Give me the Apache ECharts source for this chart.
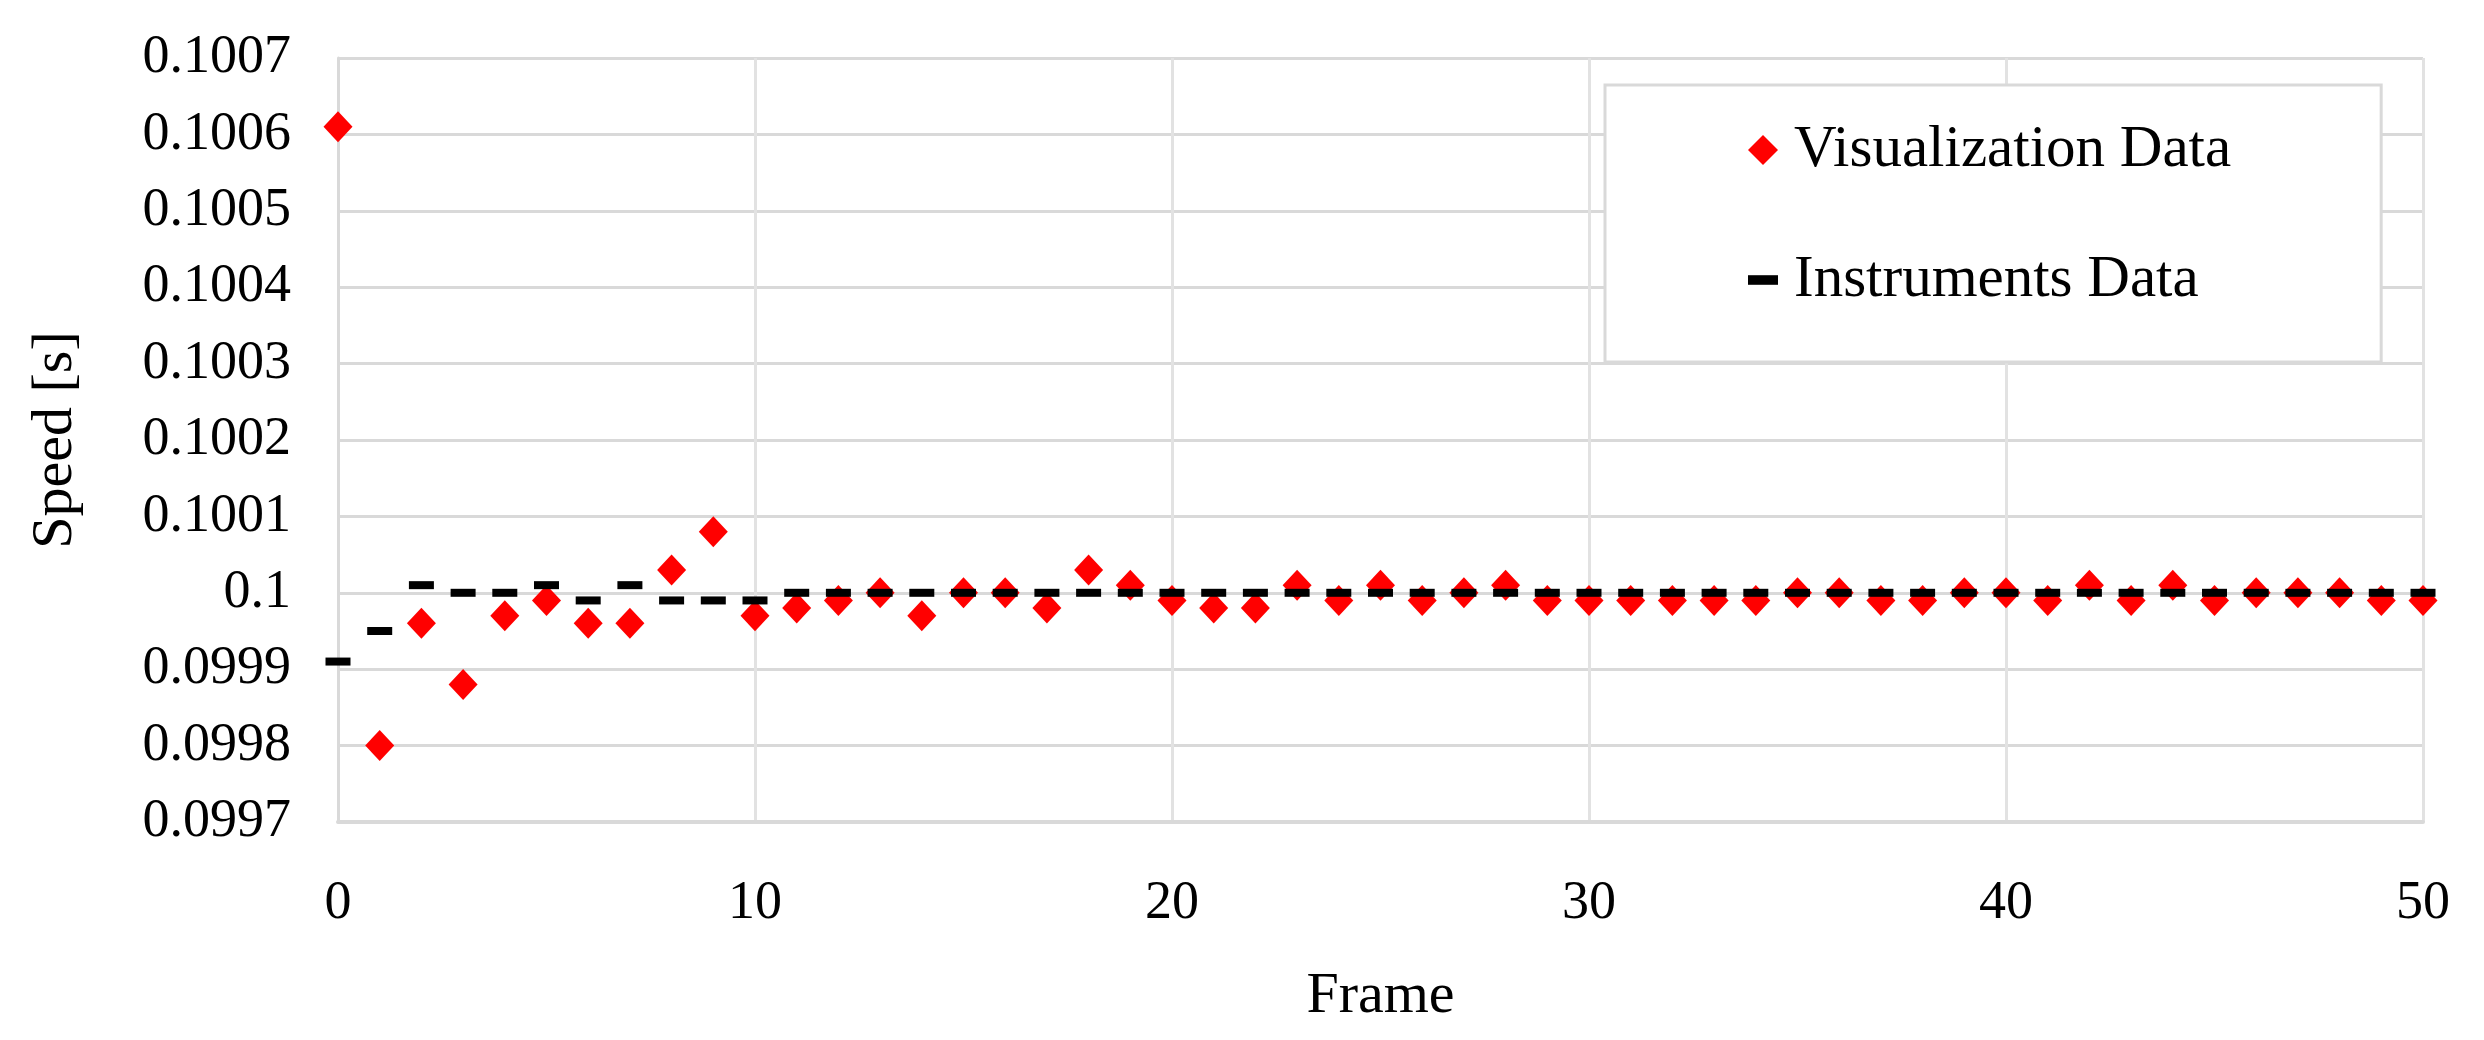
<!DOCTYPE html>
<html>
<head>
<meta charset="utf-8">
<title>Speed per frame</title>
<script src="https://cdn.jsdelivr.net/npm/echarts@6/dist/echarts.min.js"></script>
<style>
  html, body { margin: 0; padding: 0; background: #fff; }
  #chart { width: 2484px; height: 1040px; }
</style>
</head>
<body>
<div id="chart"></div>
<script>
// frame numbers on the x axis
const frames = [
  0, 1, 2, 3, 4, 5, 6, 7, 8, 9,
  10, 11, 12, 13, 14, 15, 16, 17, 18, 19,
  20, 21, 22, 23, 24, 25, 26, 27, 28, 29,
  30, 31, 32, 33, 34, 35, 36, 37, 38, 39,
  40, 41, 42, 43, 44, 45, 46, 47, 48, 49, 50
]

// red diamonds
const visualizationData = [
  0.10061, 0.09980, 0.09996, 0.09988, 0.09997, 0.09999, 0.09996, 0.09996, 0.10003, 0.10008,
  0.09997, 0.09998, 0.09999, 0.10000, 0.09997, 0.10000, 0.10000, 0.09998, 0.10003, 0.10001,
  0.09999, 0.09998, 0.09998, 0.10001, 0.09999, 0.10001, 0.09999, 0.10000, 0.10001, 0.09999,
  0.09999, 0.09999, 0.09999, 0.09999, 0.09999, 0.10000, 0.10000, 0.09999, 0.09999, 0.10000,
  0.10000, 0.09999, 0.10001, 0.09999, 0.10001, 0.09999, 0.10000, 0.10000, 0.10000, 0.09999, 0.09999
]

// black dashes
const instrumentsData = [
  0.09991, 0.09995, 0.10001, 0.10000, 0.10000, 0.10001, 0.09999, 0.10001, 0.09999, 0.09999,
  0.09999, 0.10000, 0.10000, 0.10000, 0.10000, 0.10000, 0.10000, 0.10000, 0.10000, 0.10000,
  0.10000, 0.10000, 0.10000, 0.10000, 0.10000, 0.10000, 0.10000, 0.10000, 0.10000, 0.10000,
  0.10000, 0.10000, 0.10000, 0.10000, 0.10000, 0.10000, 0.10000, 0.10000, 0.10000, 0.10000,
  0.10000, 0.10000, 0.10000, 0.10000, 0.10000, 0.10000, 0.10000, 0.10000, 0.10000, 0.10000, 0.10000
]

const seriesNames = ['Visualization Data', 'Instruments Data']

const font = 'Liberation Serif'
const gridColor = '#d9d9d9'

const chart = echarts.init(document.getElementById('chart'))

const option = {
  backgroundColor: '#fff',
  animation: false,
  grid: {
    left: 338,
    right: 61,
    top: 58,
    bottom: 218
  },
  legend: {
    data: [
      { name: seriesNames[0], icon: 'diamond' },
      { name: seriesNames[1], icon: 'path://M0,0H25V8H0Z' }
    ],
    orient: 'vertical',
    left: 1605,
    top: 85,
    itemWidth: 30,
    itemHeight: 30,
    itemGap: 70,
    padding: [35, 150, 52, 143],
    backgroundColor: '#fff',
    borderColor: gridColor,
    borderWidth: 3,
    textStyle: {
      fontFamily: font,
      fontSize: 59,
      lineHeight: 60,
      color: '#000',
      padding: [0, 0, 0, 11]
    }
  },
  xAxis: {
    type: 'value',
    min: 0,
    max: 50,
    interval: 10,
    name: 'Frame',
    nameLocation: 'middle',
    nameGap: 146,
    nameTextStyle: { fontFamily: font, fontSize: 58, lineHeight: 58, color: '#000' },
    axisLine: { show: true, lineStyle: { color: gridColor, width: 4 } },
    axisTick: { show: false },
    axisLabel: { fontFamily: font, fontSize: 54, lineHeight: 54, color: '#000', margin: 55 },
    splitLine: { show: true, lineStyle: { color: '#e2e2e2', width: 3 } }
  },
  yAxis: {
    type: 'value',
    min: 0.0997,
    max: 0.1007,
    interval: 0.0001,
    name: 'Speed [s]',
    nameLocation: 'middle',
    nameRotate: 90,
    nameGap: 253,
    nameTextStyle: { fontFamily: font, fontSize: 58, lineHeight: 58, color: '#000' },
    axisLine: { show: true, lineStyle: { color: gridColor, width: 3 } },
    axisTick: { show: false },
    axisLabel: { fontFamily: font, fontSize: 54, color: '#000', margin: 47 },
    splitLine: { show: true, lineStyle: { color: gridColor, width: 3 } }
  },
  series: [
    {
      name: seriesNames[0],
      type: 'scatter',
      symbol: 'diamond',
      symbolSize: [29, 31],
      itemStyle: { color: '#ff0000', opacity: 1 },
      data: frames.map((f, i) => [f, visualizationData[i]])
    },
    {
      name: seriesNames[1],
      type: 'scatter',
      symbol: 'rect',
      symbolSize: [25, 8],
      itemStyle: { color: '#000', opacity: 1 },
      data: frames.map((f, i) => [f, instrumentsData[i]])
    }
  ]
}

chart.setOption(option)
</script>
</body>
</html>
